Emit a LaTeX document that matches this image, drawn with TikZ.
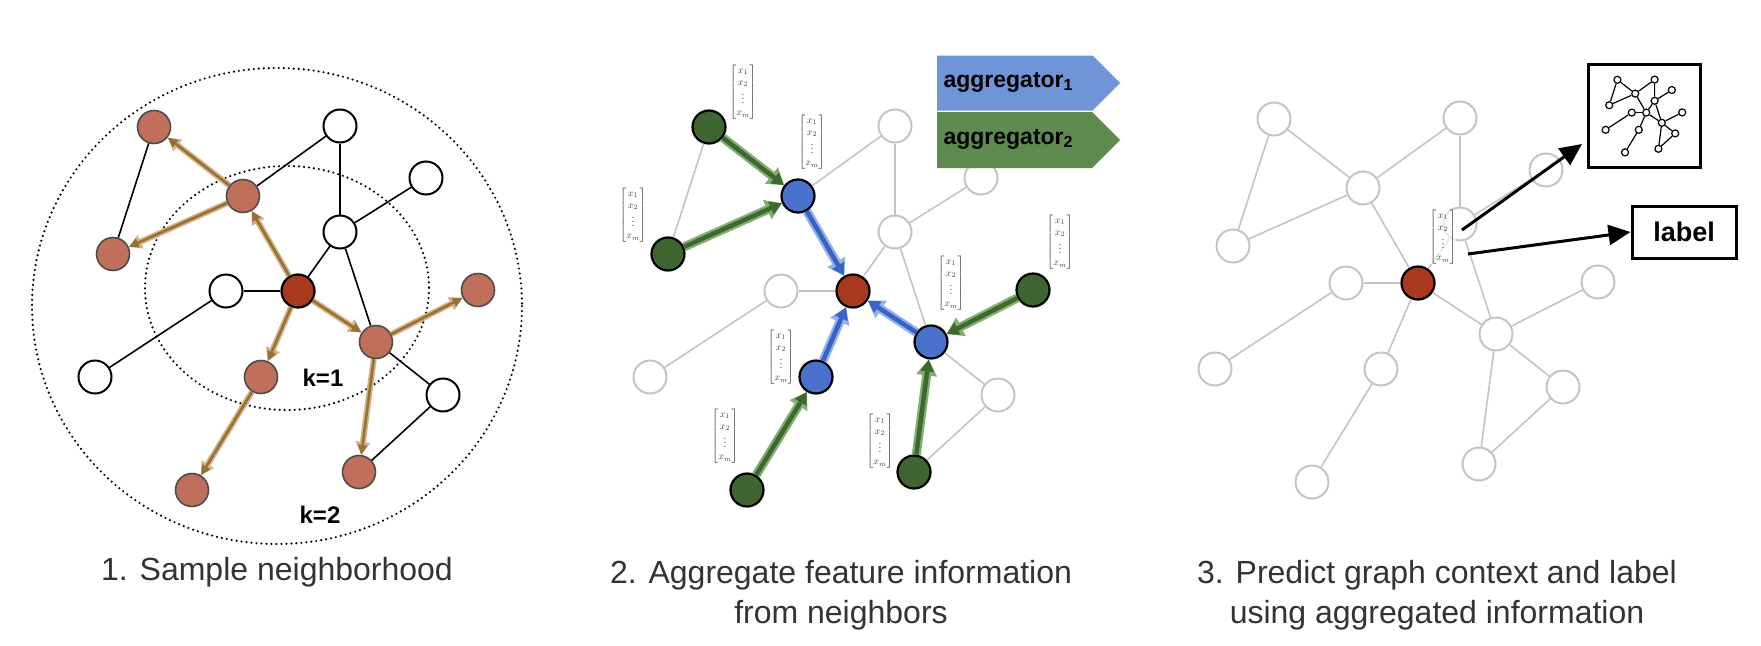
\documentclass[tikz,border=0pt]{standalone}
\usepackage{amsmath}
\usepackage{fontspec}
\setmainfont{Liberation Sans}
\usetikzlibrary{arrows.meta,shapes.arrows}
\definecolor{brn}{HTML}{C0705A}
\definecolor{redn}{HTML}{A8381E}
\definecolor{bluen}{HTML}{4A72CC}
\definecolor{greenn}{HTML}{3F6630}
\definecolor{garr}{HTML}{9A6F32}
\definecolor{garrl}{HTML}{D2B48A}
\definecolor{gdark}{HTML}{3C6A2C}
\definecolor{glight}{HTML}{86AC76}
\definecolor{bdark}{HTML}{3A62C4}
\definecolor{blight}{HTML}{8FB0EA}
\definecolor{greyl}{HTML}{C4C4C4}
\definecolor{agb}{HTML}{6F95D8}
\definecolor{agg}{HTML}{5F8C4E}
\tikzset{
  nd/.style={circle,minimum size=33pt,inner sep=0pt},
  br/.style={nd,fill=brn,draw=black!70,line width=1.6pt},
  wh/.style={nd,fill=white,draw=black,line width=2pt},
  rd/.style={nd,fill=redn,draw=black,line width=2.2pt},
  gn/.style={nd,fill=greenn,draw=black,line width=2.2pt},
  bl/.style={nd,fill=bluen,draw=black,line width=2.2pt},
  gw/.style={nd,fill=white,draw=greyl,line width=2pt},
  mn/.style={circle,minimum size=7pt,inner sep=0pt,fill=white,draw=black,line width=1.2pt},
  bedge/.style={draw=black,line width=1.6pt},
  gedge/.style={draw=greyl,line width=1.6pt},
  medge/.style={draw=black,line width=1.2pt},
  brglow/.style={draw=garrl,line width=6pt,-{Triangle[length=13pt,width=14pt]}},
  brline/.style={draw=garr,line width=2.6pt,-{Triangle[length=10pt,width=9pt]}},
  gglow/.style={draw=glight,line width=9pt,-{Triangle[length=16pt,width=20pt]}},
  gline/.style={draw=gdark,line width=4.5pt,-{Triangle[length=12pt,width=13pt]}},
  bglow/.style={draw=blight,line width=9pt,-{Triangle[length=16pt,width=20pt]}},
  bline/.style={draw=bdark,line width=4.5pt,-{Triangle[length=12pt,width=13pt]}},
  vec/.style={inner sep=0pt,text=black!75,font=\fontsize{10}{12}\selectfont},
  dotc/.style={draw=black,line width=2.4pt,dash pattern=on 0pt off 5pt,line cap=round},
  captxt/.style={font=\fontsize{32}{40}\selectfont,text=black!80,align=center},
  blackarr/.style={draw=black,line width=3pt,-{Triangle[length=22pt,width=20pt]}}
}
\newcommand{\fvec}{$\begin{bmatrix}x_1\\x_2\\\vdots\\x_m\end{bmatrix}$}
\newcommand{\placenodes}[1]{%
  \foreach \n/\px/\py [count=\i] in {a/154/127,b/340/126,c/243/196,d/426/178,e/340/232,f/113/254,g/298/291,h/226/291,i/478/290,j/376/342,k/95/377,l/261/377,m/443/395,n/192/490,o/359/472}{
    \pgfmathsetmacro\st{{#1}[\i-1]}
    \node[\st] (\n) at (\px,\py) {};
  }}
\begin{document}
\begin{tikzpicture}[x=1pt,y=-1pt]
\useasboundingbox (0,0) rectangle (1761,645);
\fill[white] (0,0) rectangle (1761,645);
% ---------- panel 1
\draw[dotc] (277,306) ellipse [x radius=245,y radius=238];
\draw[dotc] (287,288) ellipse [x radius=142,y radius=122];
\begin{scope}[name prefix=p1-]
\placenodes{"br","wh","br","wh","wh","br","rd","wh","br","br","wh","br","wh","br","br"}
\foreach \u/\v in {a/f,c/b,b/e,e/d,e/g,e/j,g/h,h/k,j/m,m/o} \draw[bedge] (\u) -- (\v);
\foreach \u/\v in {c/a,c/f,g/c,g/j,g/l,j/i,j/o,l/n} {\draw[brglow] (\u) -- (\v); \draw[brline] (\u) -- (\v);}
\end{scope}
\node[font=\bfseries\fontsize{24}{28}\selectfont] (k1) at (323,378) {k=1};
\node[font=\bfseries\fontsize{24}{28}\selectfont] (k2) at (320,515) {k=2};
\node[captxt] (cap1) at (277,572) {1. Sample neighborhood};
% ---------- panel 2
\begin{scope}[shift={(555,0)},name prefix=p2-]
\placenodes{"gn","gw","bl","gw","gw","gn","rd","gw","gn","bl","gw","bl","gw","gn","gn"}
\foreach \u/\v in {a/f,c/b,b/e,e/d,e/g,e/j,g/h,h/k,j/m,m/o} \draw[gedge] (\u) -- (\v);
\foreach \u/\v in {a/c,f/c,n/l,i/j,o/j} {\draw[gglow] (\u) -- (\v); \draw[gline] (\u) -- (\v);}
\foreach \u/\v in {c/g,l/g,j/g} {\draw[bglow] (\u) -- (\v); \draw[bline] (\u) -- (\v);}
\end{scope}
\node[vec] (v1) at (743,92) {\fvec};
\node[vec] (v2) at (812,142) {\fvec};
\node[vec] (v3) at (633,215) {\fvec};
\node[vec] (v4) at (951,283) {\fvec};
\node[vec] (v5) at (781,357) {\fvec};
\node[vec] (v6) at (725,436) {\fvec};
\node[vec] (v7) at (880,441) {\fvec};
\node[vec] (v8) at (1060,242) {\fvec};
\node[single arrow,fill=agb,minimum height=183pt,minimum width=55pt,single arrow head extend=0pt,inner sep=0pt,anchor=west] (ag1) at (937,83) {};
\node[single arrow,fill=agg,minimum height=183pt,minimum width=56pt,single arrow head extend=0pt,inner sep=0pt,anchor=west] (ag2) at (937,140) {};
\node[font=\bfseries\fontsize{23}{26}\selectfont,anchor=west] (t1) at (940,82) {aggregator\textsubscript{1}};
\node[font=\bfseries\fontsize{23}{26}\selectfont,anchor=west] (t2) at (940,139) {aggregator\textsubscript{2}};
\node[captxt] (cap2) at (841,595) {2. Aggregate feature information\\from neighbors};
% ---------- panel 3
\begin{scope}[shift={(1120,-8)},name prefix=p3-]
\placenodes{"gw","gw","gw","gw","gw","gw","rd","gw","gw","gw","gw","gw","gw","gw","gw"}
\foreach \u/\v in {a/f,c/b,b/e,e/d,e/g,e/j,g/h,h/k,j/m,m/o,c/a,c/f,g/c,g/j,g/l,j/i,j/o,l/n} \draw[gedge] (\u) -- (\v);
\end{scope}
\node[vec,fill=white,fill opacity=0.6,text opacity=1] (v9) at (1443,237) {\fvec};
\coordinate (s1) at (1462,230);
\coordinate (s2) at (1468,254);
\node[draw=black,line width=3pt,minimum width=112pt,minimum height=103pt] (gbox) at (1644,116) {};
\node[draw=black,line width=3pt,minimum width=104pt,minimum height=52pt,font=\bfseries\fontsize{27}{30}\selectfont] (lab) at (1684,232) {label};
\coordinate (gt) at (1582,144);
\draw[blackarr] (s1) -- (gt);
\draw[blackarr] (s2) -- (lab.west);
\begin{scope}[shift={(1644,116)},scale=0.2,shift={(-287,-308)},name prefix=p4-]
\foreach \n/\px/\py in {a/154/127,b/340/126,c/243/196,d/426/178,e/340/232,f/113/254,g/298/291,h/226/291,i/478/290,j/376/342,k/95/377,l/261/377,m/443/395,n/192/490,o/359/472}
  \node[mn] (\n) at (\px,\py) {};
\foreach \u/\v in {a/f,c/b,b/e,e/d,e/g,e/j,g/h,h/k,j/m,m/o,c/a,c/f,g/c,g/j,g/l,j/i,j/o,l/n} \draw[medge] (\u) -- (\v);
\end{scope}
\node[captxt] (cap3) at (1437,595) {3. Predict graph context and label\\using aggregated information};
\end{tikzpicture}
\end{document}
